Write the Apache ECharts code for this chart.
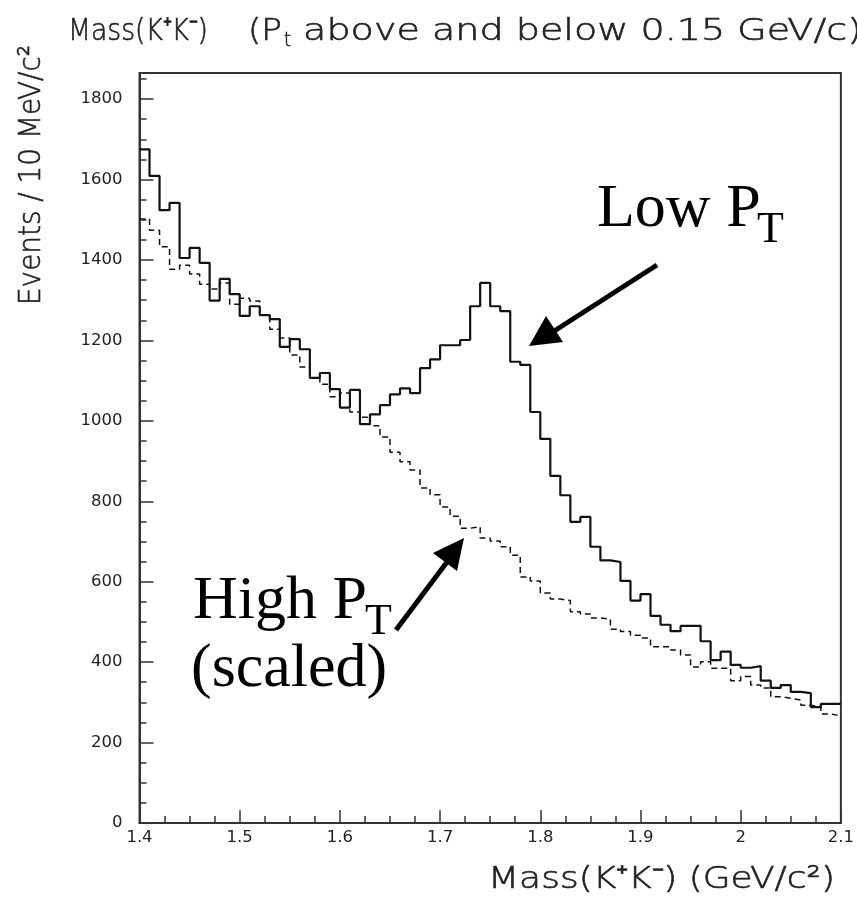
<!DOCTYPE html>
<html>
<head>
<meta charset="utf-8">
<script src="https://cdn.jsdelivr.net/npm/echarts@6/dist/echarts.min.js"></script>
<style>
html,body{margin:0;padding:0;background:#fff;}
#c{width:857px;height:902px;overflow:hidden;}
</style>
</head>
<body>
<div id="c"></div>
<script>
// Mass bins: 10 MeV wide from 1.4 to 2.1 GeV/c^2
var massMin = 1.4, massMax = 2.1, binWidth = 0.01;
var yTicks = [0, 200, 400, 600, 800, 1000, 1200, 1400, 1600, 1800];
var xTicks = [1.4, 1.5, 1.6, 1.7, 1.8, 1.9, 2, 2.1];

// Low Pt (solid)
var lowPt = [1675,1609,1524,1542,1405,1430,1393,1299,1353,1315,
             1261,1285,1263,1253,1184,1203,1178,1107,1119,1079,
             1033,1077,992,1016,1039,1066,1081,1069,1131,1153,
             1188,1188,1201,1285,1343,1285,1273,1147,1139,1022,
             955,863,815,749,761,687,653,649,602,553,
             569,515,493,477,490,490,452,405,426,393,
             386,390,354,336,343,326,323,288,296,296];
// High Pt scaled (dashed)
var highPt = [1502,1474,1433,1377,1387,1365,1340,1328,1343,1290,
              1305,1298,1263,1228,1206,1164,1134,1107,1091,1060,
              1069,1022,1009,988,960,922,898,878,833,816,
              786,763,733,737,709,701,687,666,612,602,
              572,557,553,525,520,510,507,482,476,467,
              460,438,438,430,418,388,401,385,385,354,
              364,343,336,314,310,306,293,289,271,267];

function stepData(vals){
  var d = [];
  for (var i = 0; i < vals.length; i++) {
    d.push([+(massMin + i*binWidth).toFixed(3), vals[i]]);
  }
  d.push([massMax, vals[vals.length-1]]);
  return d;
}

var thinFont = "'DejaVu Sans','Liberation Sans',sans-serif";
var serif = "'Liberation Serif','DejaVu Serif',serif";
var mctx = document.createElement('canvas').getContext('2d');
function measure(str, font){ mctx.font = font; return mctx.measureText(str).width; }

// horizontal text fitted between x0 and x1, vertically centred on yc
function fitH(str, x0, x1, yc, size){
  var font = '200 ' + size + 'px ' + thinFont;
  var s = (x1 - x0) / measure(str, font);
  return {type:'text', x:x0, y:yc, scaleX:s, scaleY:1,
          style:{text:str, font:font, fill:'#222', stroke:'#222', lineWidth:0.6,
                 textAlign:'left', textVerticalAlign:'middle'}};
}

var chart = echarts.init(document.getElementById('c'), null, {renderer:'canvas'});

var yName = 'Events / 10 MeV/c\u00B2';
var yNameFont = '200 31px ' + thinFont;
var yNameScale = (305 - 45) / measure(yName, yNameFont);

var option = {
  animation:false,
  backgroundColor:'#fff',
  grid:{left:139.5, right:15, top:73, bottom:79, show:true, borderColor:'#333', borderWidth:2, backgroundColor:'transparent'},
  xAxis:{
    type:'value', min:massMin, max:massMax, interval:0.1,
    axisLine:{show:true, lineStyle:{color:'#333', width:2}},
    axisTick:{show:true, inside:true, length:13, lineStyle:{color:'#333', width:1.5}},
    minorTick:{show:true, splitNumber:4, length:7, lineStyle:{color:'#333', width:1.5}},
    splitLine:{show:false},
    axisLabel:{color:'#222', fontSize:16.5, fontFamily:"'DejaVu Sans',sans-serif", margin:6,
      formatter:function(v){ var r = Math.round(v*10)/10; return xTicks.indexOf(r) >= 0 ? String(r) : ''; }}
  },
  yAxis:{
    type:'value', min:0, max:1865, interval:200,
    axisLine:{show:true, lineStyle:{color:'#333', width:2}},
    axisTick:{show:true, inside:true, length:14, lineStyle:{color:'#333', width:1.5}},
    minorTick:{show:true, splitNumber:4, length:7, lineStyle:{color:'#333', width:1.5}},
    splitLine:{show:false},
    axisLabel:{color:'#222', fontSize:16.5, fontFamily:"'DejaVu Sans',sans-serif", margin:17,
      showMaxLabel:false,
      formatter:function(v){ return yTicks.indexOf(v) >= 0 ? String(v) : ''; }}
  },
  series:[
    {type:'line', name:'Low Pt', step:'end', data:stepData(lowPt), symbol:'none',
     lineStyle:{color:'#111', width:2.2}},
    {type:'line', name:'High Pt', step:'end', data:stepData(highPt), symbol:'none',
     lineStyle:{color:'#111', width:1.5, type:[6,4]}}
  ],
  graphic:[
    // title
    fitH('Mass(K\u207AK\u207B)', 68, 208, 32, 31),
    fitH('(P', 248, 282, 32, 31),
    fitH('t', 284, 291, 41, 19),
    fitH(' above and below 0.15 GeV/c)', 291, 862, 32, 31),
    // y axis name (rotated, reading bottom to top)
    {type:'text', x:32, y:305, rotation:Math.PI/2, scaleX:yNameScale, scaleY:1,
     style:{text:yName, font:yNameFont, fill:'#222', stroke:'#222', lineWidth:0.6, textAlign:'left', textVerticalAlign:'middle'}},
    // x axis name
    fitH('Mass(K\u207AK\u207B) (GeV/c\u00B2)', 488, 835, 880, 31),
    // Low PT annotation
    {type:'text', x:597, y:241, style:{text:'Low P', font:'62px '+serif, fill:'#000', textAlign:'left', textVerticalAlign:'bottom'}},
    {type:'text', x:757, y:252, style:{text:'T', font:'44px '+serif, fill:'#000', textAlign:'left', textVerticalAlign:'bottom'}},
    {type:'line', shape:{x1:657, y1:265, x2:548, y2:335}, style:{stroke:'#000', lineWidth:5}},
    {type:'polygon', shape:{points:[[529,346],[546,316],[563,342]]}, style:{fill:'#000'}},
    // High PT annotation
    {type:'text', x:193, y:633, style:{text:'High P', font:'62px '+serif, fill:'#000', textAlign:'left', textVerticalAlign:'bottom'}},
    {type:'text', x:365, y:644, style:{text:'T', font:'44px '+serif, fill:'#000', textAlign:'left', textVerticalAlign:'bottom'}},
    {type:'text', x:191, y:701, style:{text:'(scaled)', font:'62px '+serif, fill:'#000', textAlign:'left', textVerticalAlign:'bottom'}},
    {type:'line', shape:{x1:396, y1:630, x2:450, y2:558}, style:{stroke:'#000', lineWidth:5}},
    {type:'polygon', shape:{points:[[464,538],[433,553],[457,571]]}, style:{fill:'#000'}}
  ]
};
chart.setOption(option);
</script>
</body>
</html>
